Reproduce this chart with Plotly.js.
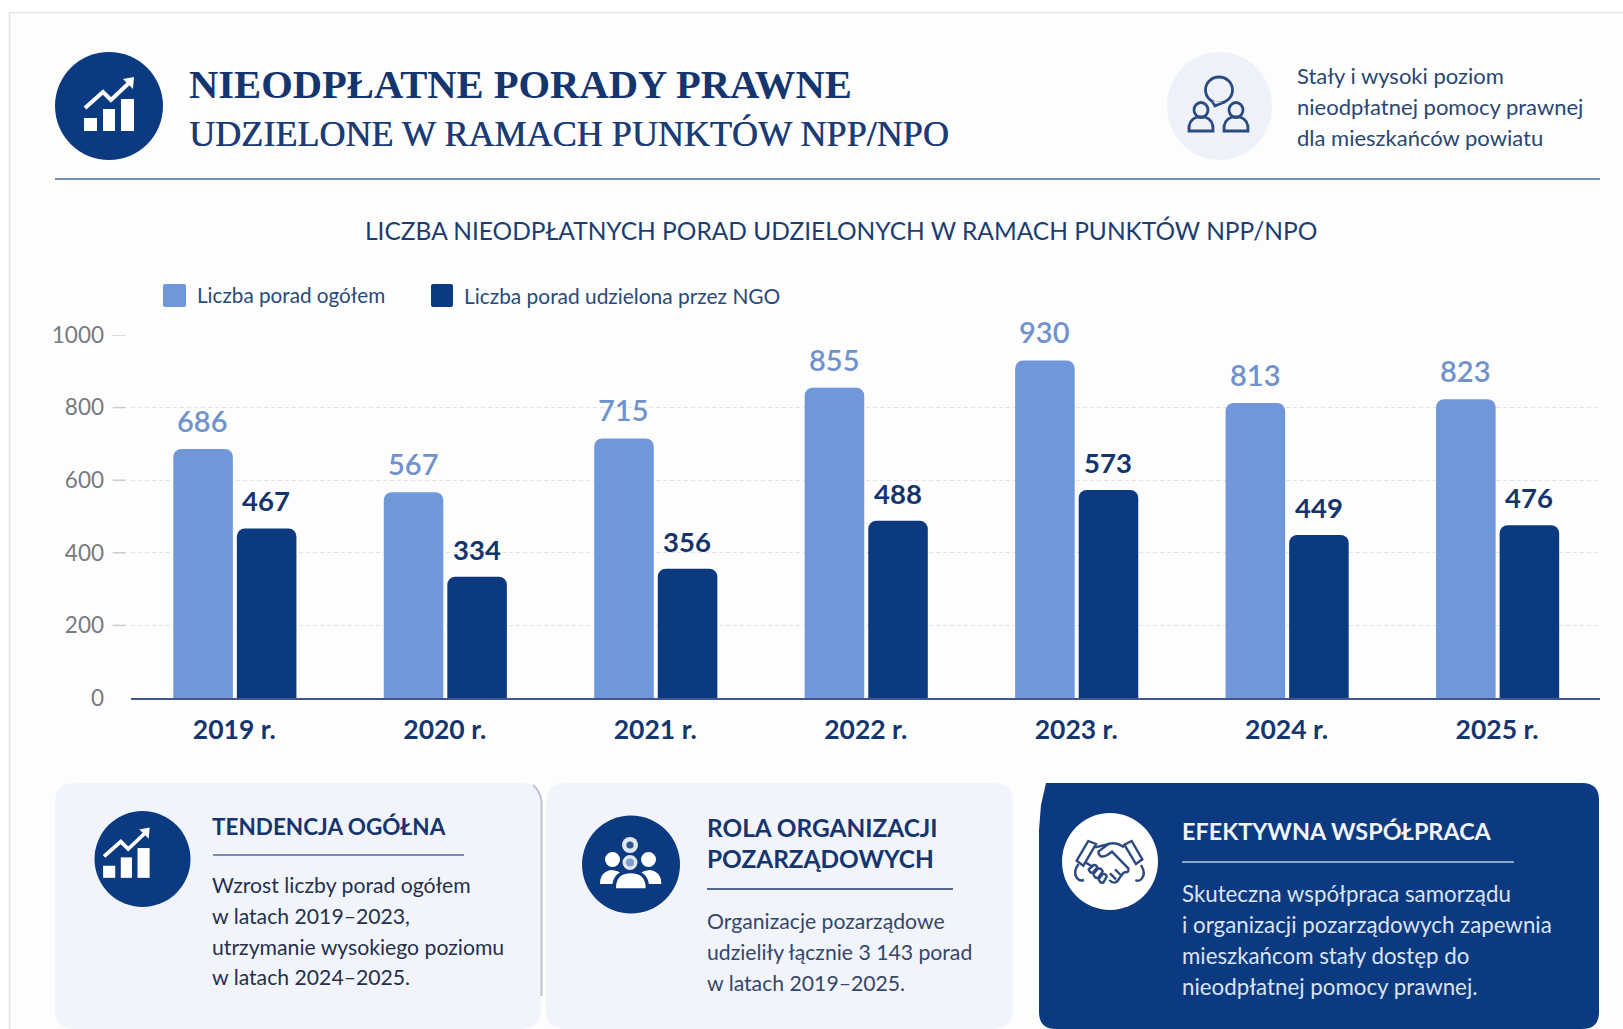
<!DOCTYPE html>
<html lang="pl"><head><meta charset="utf-8">
<script src="https://cdn.plot.ly/plotly-3.0.1.min.js"></script>
<style>html,body{margin:0;padding:0;background:#fff;overflow:hidden}#c{width:1623px;height:1029px}</style>
</head><body><div id="c"></div>
<script>
const years = ['2019 r.','2020 r.','2021 r.','2022 r.','2023 r.','2024 r.','2025 r.'];
const total = [686,567,715,855,930,813,823];
const ngo = [467,334,356,488,573,449,476];
const yTicks = [0,200,400,600,800,1000];
const seriesNames = ['Liczba porad ogółem','Liczba porad udzielona przez NGO'];
const titleMain = 'NIEODPŁATNE PORADY PRAWNE';
const titleSub = 'UDZIELONE W RAMACH PUNKTÓW NPP/NPO';
const chartTitle = 'LICZBA NIEODPŁATNYCH PORAD UDZIELONYCH W RAMACH PUNKTÓW NPP/NPO';
const sideNote = ['Stały i wysoki poziom','nieodpłatnej pomocy prawnej','dla mieszkańców powiatu'];
const card1Title = ['TENDENCJA OGÓŁNA'];
const card1Body = ['Wzrost liczby porad ogółem','w latach 2019–2023,','utrzymanie wysokiego poziomu','w latach 2024–2025.'];
const card2Title = ['ROLA ORGANIZACJI','POZARZĄDOWYCH'];
const card2Body = ['Organizacje pozarządowe','udzieliły łącznie 3 143 porad','w latach 2019–2025.'];
const card3Title = ['EFEKTYWNA WSPÓŁPRACA'];
const card3Body = ['Skuteczna współpraca samorządu','i organizacji pozarządowych zapewnia','mieszkańcom stały dostęp do','nieodpłatnej pomocy prawnej.'];

const W=1623,H=1029, NAVY='#0c3a80', LIGHT='#6f97d9', INK='#14356e';
const FF='Lato, "Open Sans", sans-serif';
const X=x=>x/W, Y=y=>1-y/H;
const shapes=[], ann=[];
function P(str,ox=0,oy=0,s=1){
  let isX=true;
  return str.trim().split(/\s+/).map(t=>{
    if(/^[A-Za-z]$/.test(t)){isX=true;return t;}
    const v=parseFloat(t); const r=isX?X(ox+v*s):Y(oy+v*s); isX=!isX; return r.toFixed(6);
  }).join(' ');
}
function path(str,{fill,color,width,ox=0,oy=0,s=1,layer='below'}={}){
  shapes.push({type:'path',xref:'paper',yref:'paper',path:P(str,ox,oy,s),layer,
    fillcolor:fill||'rgba(0,0,0,0)',line:{color:color||'rgba(0,0,0,0)',width:width||0}});
}
function circle(cx,cy,rx,ry,fill,lineColor,lw){
  shapes.push({type:'circle',xref:'paper',yref:'paper',x0:X(cx-rx),x1:X(cx+rx),y0:Y(cy+ry),y1:Y(cy-ry),layer:'below',
    fillcolor:fill||'rgba(0,0,0,0)',line:{color:lineColor||'rgba(0,0,0,0)',width:lw||0}});
}
function line(x0,y0,x1,y1,color,w){
  shapes.push({type:'line',xref:'paper',yref:'paper',x0:X(x0),x1:X(x1),y0:Y(y0),y1:Y(y1),layer:'below',line:{color,width:w}});
}
function rr(x0,y0,x1,y1,r){
  return `M ${x0+r} ${y0} L ${x1-r} ${y0} Q ${x1} ${y0} ${x1} ${y0+r} L ${x1} ${y1-r} Q ${x1} ${y1} ${x1-r} ${y1} L ${x0+r} ${y1} Q ${x0} ${y1} ${x0} ${y1-r} L ${x0} ${y0+r} Q ${x0} ${y0} ${x0+r} ${y0} Z`;
}
function T(text,x,y,size,color,o={}){
  const font={family:o.family||FF,size,color,weight:o.weight||400};
  if(o.shadow) font.shadow=o.shadow;
  ann.push({xref:'paper',yref:'paper',x:X(x),y:Y(y),text,showarrow:false,xanchor:o.anchor||'left',yanchor:'middle',align:o.anchor==='center'?'center':'left',
    borderpad:0,font});
}
function lines(arr,x,ys,size,color,o){arr.forEach((t,i)=>T(t,x,ys[i],size,color,o));}

// page frame
path('M 9.5 12.5 L 1640 12.5 L 1640 1040 L 9.5 1040 Z',{fill:'#fdfdfe',color:'#e4e4e6',width:1.5});

// chart-growth icon
function chartIcon(ox,oy,s){
  const o={ox,oy,s,fill:'#ffffff'};
  path('M 84 118 L 97 118 L 97 131 L 84 131 Z',o);
  path('M 103 109 L 115 109 L 115 131 L 103 131 Z',o);
  path('M 121 99 L 134 99 L 134 131 L 121 131 Z',o);
  path('M 85 108 L 103 92 L 111 100 L 130 82',{ox,oy,s,color:'#ffffff',width:4*s});
  path('M 123 79 L 134 77 L 133 89 Z',o);
}
// header
circle(109,106,54,54,NAVY);
chartIcon(0,0,1);
T(titleMain,188,84.5,40.6,INK,{family:'"Liberation Serif",serif',weight:700});
T(titleSub,188,134.5,36.1,'#1b3c75',{family:'"Liberation Serif",serif',weight:400,shadow:'0.5px 0 0 #1b3c75'});
circle(1219.5,106,52.5,54,'#eef1f8');
{
  const c='#2a4a82',w=2.8;
  path('M 1211 99 L 1215 106 L 1224 102',{color:c,width:w,fill:'#eef1f8'});
  circle(1219,90,13.5,13,'#eef1f8',c,w);
  path('M 1213 101 L 1215.5 104 L 1222 102',{fill:'#eef1f8'});
  [1201,1236].forEach(cx=>{
    circle(cx,110,7,7.5,null,c,w);
    path(`M ${cx-12} 131 Q ${cx-13} 120 ${cx-4} 117 L ${cx+4} 117 Q ${cx+13} 120 ${cx+12} 131 Z`,{color:c,width:w});
  });
}
lines(sideNote,1296,[75.5,107,138],22,'#2b4670');
line(55,179,1600,179,'#6d8fb8',2.2);

T(chartTitle,841,230,24.5,'#1d3d70',{anchor:'center'});

// legend
path(rr(163,284,186,307,2),{fill:LIGHT});
T(seriesNames[0],196,295,20.7,'#2a4a78');
path(rr(431,284,453,307,2),{fill:NAVY});
T(seriesNames[1],463,295,20.9,'#2a4a78');

// cards
path(rr(55,783,541,1029,20),{fill:'#f1f4fa'});
path('M 533 785 Q 541 792 541.5 802 L 541.5 996',{color:'#bcc3cf',width:2});
path(rr(546,783,1013,1029,20),{fill:'#f1f4fa'});
path('M 1060 783 L 1582 783 Q 1599 783 1599 800 L 1599 1012 Q 1599 1029 1582 1029 L 1056 1029 Q 1039 1029 1039 1012 L 1039 830 L 1041 805 L 1046 783 Z',{fill:NAVY});

// card 1
circle(142.5,859,48,48,NAVY);
chartIcon(25,756,0.93);
lines(card1Title,211,[826],22.5,INK,{weight:700});
line(213,855,464,855,'#4a6a9f',1.6);
lines(card1Body,211,[885,916,947,977],21.2,'#25304d');

// card 2
circle(631,864.5,49,49,NAVY);
{
  const g={ox:580,oy:815,s:1/3};
  circle(630,845,8,8,'#dfe6f3'); circle(630,845,3.6,3.6,'#33558f');
  circle(630,862.5,7.5,7.5,'#dfe6f3'); circle(630,862.5,4,4,'#7f9ccf');
  circle(612.5,859.5,7.5,7.5,'#ffffff'); circle(648.5,859.5,7.5,7.5,'#ffffff');
  path('M 108 220 Q 108 175 152 175 Q 197 175 197 220 Z',{...g,fill:'#ffffff'});
  path('M 60 207 Q 60 170 95 165 Q 112 168 120 172 Q 100 185 97 207 Z',{...g,fill:'#ffffff'});
  path('M 244 207 Q 244 170 209 165 Q 192 168 184 172 Q 204 185 207 207 Z',{...g,fill:'#ffffff'});
}
lines(card2Title,706,[827,858.5],24.4,INK,{weight:700});
line(707,889,953,889,'#1f3a6f',1.6);
lines(card2Body,706,[921,952,982.5],21.2,'#36476a');

// card 3
circle(1110,861.5,48,48.5,'#ffffff');
{
  const h={ox:1060,oy:810,s:1/3,color:'#2b4a80',width:2.4};
  path('M 85 93 L 108 102 L 70 167 L 50 152 Z',h);
  path('M 215 93 L 193 104 L 228 162 L 247 148 Z',h);
  path('M 56 162 Q 38 185 50 203 Q 58 215 72 210',h);
  path('M 243 165 Q 258 190 246 205 Q 238 216 226 210',h);
  path('M 105 112 L 135 105 Q 165 92 192 112',h);
  path('M 145 102 L 115 125 Q 118 148 142 135 L 156 125 L 205 175 Q 208 190 192 186',h);
  path('M 192 186 L 178 205 Q 165 228 148 210',h);
  path('M 78 158 L 100 172',h);
  path('M 86 178 L 100 165 Q 108 163 112 172 L 98 188 Q 90 190 86 178 Z',h);
  path('M 100 192 L 114 176 Q 124 174 128 184 L 114 204 Q 104 206 100 192 Z',h);
  path('M 116 208 L 128 192 Q 138 190 140 200 L 130 218 Q 120 220 116 208 Z',h);
  path('M 165 178 L 182 195',h);
  path('M 150 190 L 168 208',h);
}
lines(card3Title,1181,[831],23.4,'#f2f5fb',{weight:700});
line(1182,862,1514,862,'#b9cbe8',1.6);
lines(card3Body,1181,[893,924,955,986],22.3,'#d9e3f3');

// y ticks
yTicks.filter(v=>v>0).forEach(v=>shapes.push({type:'line',xref:'x domain',yref:'y',x0:-0.0125,x1:-0.0035,y0:v,y1:v,layer:'below',line:{color:'#c9ccd2',width:1.5}}));

// data labels, anchored on bars
years.forEach((yr,i)=>{
  ann.push({xref:'x',yref:'y',x:yr,y:total[i],xshift:-32,yshift:10,yanchor:'bottom',showarrow:false,text:String(total[i]),borderpad:0,font:{family:FF,size:29,color:'#6f92cc',weight:600}});
  ann.push({xref:'x',yref:'y',x:yr,y:ngo[i],xshift:32,yshift:10,yanchor:'bottom',showarrow:false,text:String(ngo[i]),borderpad:0,font:{family:FF,size:27.5,color:'#14346c',weight:700}});
});

const traces=[
 {type:'bar',name:seriesNames[0],x:years,y:total,width:0.283,offset:-0.29,marker:{color:LIGHT,cornerradius:8},hoverinfo:'x+y'},
 {type:'bar',name:seriesNames[1],x:years,y:ngo,width:0.283,offset:0.012,marker:{color:NAVY,cornerradius:8},hoverinfo:'x+y'}
];
const layout={
 width:W,height:H,margin:{l:0,r:0,t:0,b:0,pad:0},paper_bgcolor:'#ffffff',plot_bgcolor:'rgba(0,0,0,0)',showlegend:false,barmode:'group',
 xaxis:{type:'category',categoryorder:'array',categoryarray:years,domain:[X(131),X(1600)],range:[-0.491,6.489],showgrid:false,showline:true,linecolor:'#45568f',linewidth:2,ticks:'',ticklabelstandoff:7,
   tickfont:{family:FF,size:26.5,color:INK,weight:700},zeroline:false,fixedrange:true},
 yaxis:{domain:[Y(698),Y(335)],range:[0,1000],tickvals:yTicks,ticktext:yTicks.map(String),ticks:'',ticklabelstandoff:26,showgrid:true,gridcolor:'#dfe2e8',griddash:'4px,3px',gridwidth:1,zeroline:false,showline:false,
   tickfont:{family:FF,size:22.5,color:'#777a80'},fixedrange:true},
 shapes,annotations:ann
};
Plotly.newPlot('c',traces,layout,{displayModeBar:false,staticPlot:true});
</script></body></html>
